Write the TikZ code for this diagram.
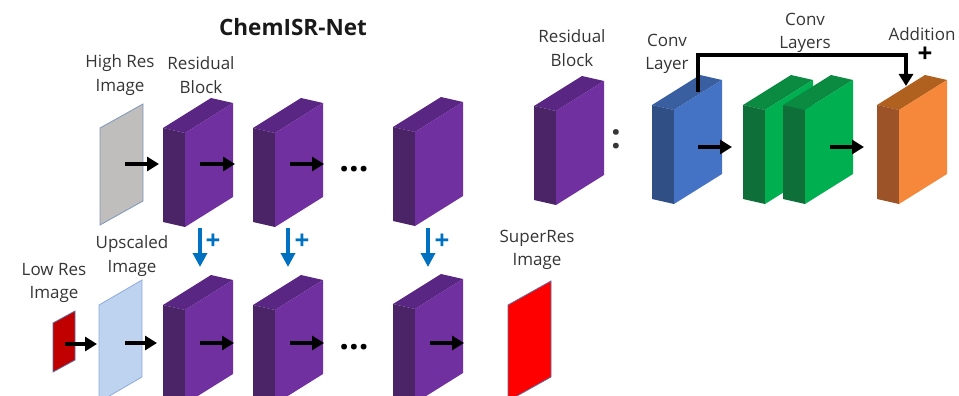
\documentclass[tikz,border=0pt]{standalone}
\usepackage{fontspec}
\setmainfont{Open Sans}
\usetikzlibrary{arrows.meta}
\definecolor{pF}{HTML}{7030A0}\definecolor{pS}{HTML}{4B2468}\definecolor{pT}{HTML}{5A2683}
\definecolor{bF}{HTML}{4472C4}\definecolor{bS}{HTML}{2F4F85}\definecolor{bT}{HTML}{3A5FA0}
\definecolor{gF}{HTML}{00B050}\definecolor{gS}{HTML}{0E7038}\definecolor{gT}{HTML}{0B8A42}
\definecolor{oF}{HTML}{F5883A}\definecolor{oS}{HTML}{9C5328}\definecolor{oT}{HTML}{B0601F}
\definecolor{grayP}{HTML}{C0BDBD}\definecolor{grayB}{HTML}{7F96BC}
\definecolor{upP}{HTML}{BDD3EF}\definecolor{upB}{HTML}{8FAADC}
\definecolor{lowP}{HTML}{C00000}\definecolor{supP}{HTML}{FF0000}\definecolor{supB}{HTML}{5B6FA0}
\definecolor{plusB}{HTML}{0070C0}\definecolor{txt}{HTML}{353535}
% block: name, xR, yT, front, side, top
\newcommand\slab[6]{%
 \fill[#6] (#2-48,#3+30) -- (#2,#3) -- (#2-22,#3-5) -- (#2-70,#3+25) -- cycle;
 \fill[#5] (#2-48,#3+30) -- (#2-70,#3+25) -- (#2-70,#3+119) -- (#2-48,#3+124) -- cycle;
 \fill[#4] (#2-48,#3+30) -- (#2,#3) -- (#2,#3+94) -- (#2-48,#3+124) -- cycle;
 \coordinate (#1) at (#2-24,#3+62);}
% plate: name, xL, yTL, width, rise, height, fill, border
\newcommand\plate[8]{%
 \filldraw[fill=#7,draw=#8,line width=0.8pt] (#2,#3) -- (#2+#4,#3-#5) -- (#2+#4,#3-#5+#6) -- (#2,#3+#6) -- cycle;
 \coordinate (#1) at (#2+#4/2,#3+#6/2-#5/2);}
\begin{document}
\begin{tikzpicture}[x=1pt,y=-1pt,
  lbl/.style={text=txt,align=center,font=\fontsize{17}{23.5}\selectfont},
  blk/.style={line width=4pt,-{Triangle[length=12pt,width=14pt]}},
  bluearr/.style={plusB,line width=4pt,-{Triangle[length=14pt,width=14pt]}},
  plusmark/.style={font=\fontsize{26}{26}\selectfont\bfseries}]
\useasboundingbox (0,0) rectangle (959,396);
\clip (0,0) rectangle (959,396);
% title and labels
\node[font=\fontsize{22.5}{26}\selectfont\bfseries,text=black!90] (title) at (293,27) {ChemISR-Net};
\node[lbl] (lhr) at (120,75) {High Res\\Image};
\node[lbl] (lrb) at (201,75) {Residual\\Block};
\node[lbl] (lup) at (132,256) {Upscaled\\Image};
\node[lbl] (llr) at (54,283) {Low Res\\Image};
\node[lbl] (lsr) at (537,250) {SuperRes\\Image};
\node[lbl] (lrb2) at (572,48) {Residual\\Block};
\node[lbl] (lcl) at (667,54) {Conv\\Layer};
\node[lbl] (lcls) at (805,33) {Conv\\Layers};
\node[lbl] (ladd) at (922,34) {Addition};
\node[plusmark,text=black] (addplus) at (925,55) {+};
% plates
\plate{hr}{100}{128}{43}{24}{97}{grayP}{grayB}
\plate{up}{99}{305}{43}{25}{97}{upP}{upB}
\plate{lr}{53}{323}{22}{12}{49}{lowP}{supB}
\plate{sr}{508}{305}{43}{24}{96}{supP}{supB}
% top row blocks
\slab{t1}{233}{103}{pF}{pS}{pT}
\slab{t2}{323}{103}{pF}{pS}{pT}
\slab{t3}{463}{102}{pF}{pS}{pT}
% bottom row blocks
\slab{u1}{233}{280}{pF}{pS}{pT}
\slab{u2}{323}{280}{pF}{pS}{pT}
\slab{u3}{463}{279}{pF}{pS}{pT}
% right part
\slab{rb}{604}{81}{pF}{pS}{pT}
\slab{cv}{722}{80}{bF}{bS}{bT}
\slab{g1}{813}{80}{gF}{gS}{gT}
\slab{g2}{853}{80}{gF}{gS}{gT}
\slab{ad}{947}{80}{oF}{oS}{oT}
\node[font=\fontsize{34}{34}\selectfont\bfseries,text=txt] (colon) at (616,139) {:};
% ellipses
\node[font=\fontsize{34}{34}\selectfont\bfseries,text=black,anchor=base] (dtop) at (354,171) {...};
\node[font=\fontsize{34}{34}\selectfont\bfseries,text=black,anchor=base] (dbot) at (354,349) {...};
% arrow end points
\coordinate (a1s) at (125,164); \coordinate (a1e) at (159,164);
\coordinate (a2s) at (200,164); \coordinate (a2e) at (235,164);
\coordinate (a3s) at (290,164); \coordinate (a3e) at (324,164);
\coordinate (b0s) at (65,344);  \coordinate (b0e) at (97,344);
\coordinate (b1s) at (125,343); \coordinate (b1e) at (157,343);
\coordinate (b2s) at (200,343); \coordinate (b2e) at (234,343);
\coordinate (b3s) at (290,343); \coordinate (b3e) at (324,343);
\coordinate (b4s) at (430,343); \coordinate (b4e) at (464,343);
\coordinate (c1s) at (698,147); \coordinate (c1e) at (732,147);
\coordinate (c2s) at (830,147); \coordinate (c2e) at (864,147);
\draw[blk] (a1s) -- (a1e);
\draw[blk] (a2s) -- (a2e);
\draw[blk] (a3s) -- (a3e);
\draw[blk] (b0s) -- (b0e);
\draw[blk] (b1s) -- (b1e);
\draw[blk] (b2s) -- (b2e);
\draw[blk] (b3s) -- (b3e);
\draw[blk] (b4s) -- (b4e);
\draw[blk] (c1s) -- (c1e);
\draw[blk] (c2s) -- (c2e);
% skip connection
\coordinate (sk0) at (698,92); \coordinate (skA) at (698,55);
\coordinate (skB) at (906,55); \coordinate (sk1) at (906,86);
\draw[blk,line join=miter] (sk0) -- (skA) -- (skB) -- (sk1);
% blue additions
\coordinate (v1s) at (200,228); \coordinate (v1e) at (200,267);
\coordinate (v2s) at (288,228); \coordinate (v2e) at (288,267);
\coordinate (v3s) at (428,228); \coordinate (v3e) at (428,267);
\draw[bluearr] (v1s) -- (v1e);
\draw[bluearr] (v2s) -- (v2e);
\draw[bluearr] (v3s) -- (v3e);
\node[plusmark,text=plusB] (p1) at (213,242) {+};
\node[plusmark,text=plusB] (p2) at (302,242) {+};
\node[plusmark,text=plusB] (p3) at (442,242) {+};
\end{tikzpicture}
\end{document}
